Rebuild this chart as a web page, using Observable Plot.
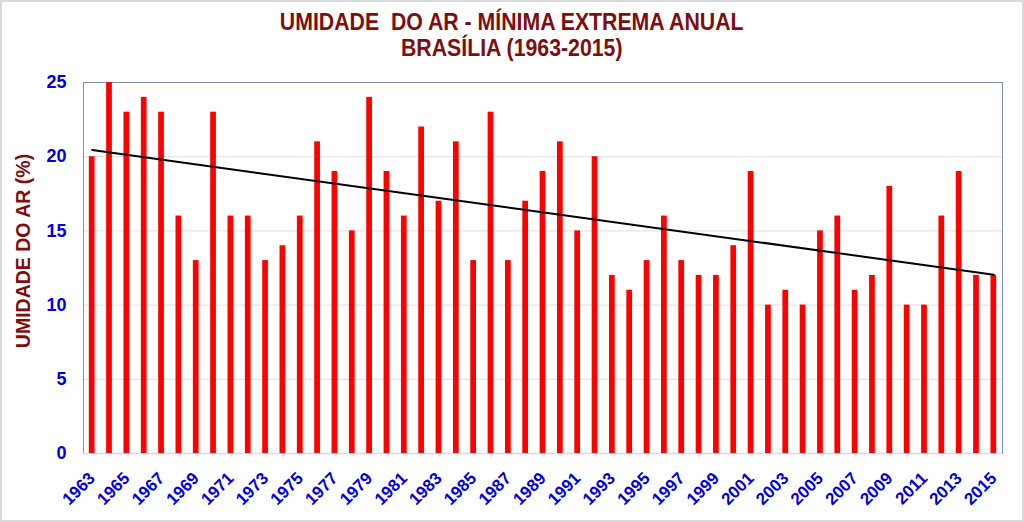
<!DOCTYPE html>
<html>
<head>
<meta charset="utf-8">
<script src="https://cdn.jsdelivr.net/npm/d3@7"></script>
<script src="https://cdn.jsdelivr.net/npm/@observablehq/plot@0.6"></script>
<style>
  html, body { margin: 0; padding: 0; background: #fff; }
  #wrap { position: relative; width: 1024px; height: 522px; box-sizing: border-box; border: 2px solid #d9d9d9; background: #fff; overflow: hidden; }
  #title { height: 70px; box-sizing: border-box; padding-top: 7px; text-align: center; color: #7f0d0d;
    font-family: "Liberation Sans", Arial, sans-serif; font-weight: bold; font-size: 23px; line-height: 26px; }
  #title span { display: inline-block; transform: scaleX(0.925); transform-origin: center; white-space: nowrap; }
  svg { display: block; }
</style>
</head>
<body>
<div id="wrap">
  <div id="title"><span>UMIDADE&nbsp; DO AR - MÍNIMA EXTREMA ANUAL</span><br><span>BRASÍLIA (1963-2015)</span></div>
  <div id="chart"></div>
</div>
<script>
const years = d3.range(1963, 2016);
const values = [20,25,23,24,23,16,13,23,16,16,13,14,16,21,19,15,24,19,16,22,17,21,13,23,13,17,19,21,15,20,12,11,13,16,13,12,12,14,19,10,11,10,15,16,11,12,18,10,10,16,19,12,12];
const yTicks = [0,5,10,15,20,25];
const xTickYears = years.filter(y => y % 2 === 1);
const trendYears = [1963, 2015];
const trendValues = [20.45, 12.05];
const yLabel = "UMIDADE DO AR (%)";

const data = years.map((y, i) => ({year: y, value: values[i]}));
const trend = trendYears.map((y, i) => ({year: y, value: trendValues[i]}));

const blue = "#0000dd";
const chart = Plot.plot({
  width: 1020,
  height: 448,
  marginTop: 10,
  marginBottom: 67,
  marginLeft: 81,
  marginRight: 20,
  style: {fontFamily: "'Liberation Sans', Arial, sans-serif", background: "transparent"},
  x: {type: "band", domain: years, paddingInner: 0.67, paddingOuter: 0.335, align: 0.5, round: false},
  y: {domain: [0, 25]},
  marks: [
    Plot.gridY([5,10,15,20], {stroke: "#dedede", strokeOpacity: 1}),
    Plot.frame({stroke: "#8090b0"}),
    Plot.ruleY([0], {stroke: "#d9d9d9", strokeWidth: 1.5}),
    Plot.barY(data, {x: "year", y: "value", fill: "#ff0000"}),
    Plot.line(trend, {x: "year", y: "value", stroke: "#000", strokeWidth: 2}),
    Plot.axisY(yTicks, {tickSize: 0, tickPadding: 17, fill: blue, fontSize: 18, fontWeight: "bold", label: null}),
    Plot.axisX(xTickYears, {tickSize: 0, tickPadding: 22, tickRotate: -45, fill: blue, fontSize: 17, fontWeight: "bold", label: null, tickFormat: d => String(d)}),
    Plot.text([yLabel], {frameAnchor: "left", dx: -60, dy: -17, rotate: -90, textAnchor: "middle", fill: "#7f0d0d", fontSize: 19.5, fontWeight: "bold"})
  ]
});
document.getElementById("chart").appendChild(chart);
</script>
</body>
</html>
